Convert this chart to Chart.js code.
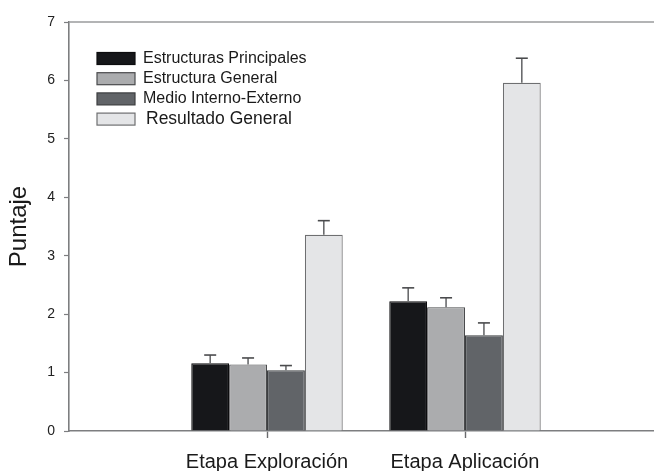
<!DOCTYPE html>
<html><head><meta charset="utf-8">
<style>html,body{margin:0;padding:0;background:#fff;overflow:hidden;width:654px;height:471px}canvas{display:block}</style>
<script src="https://cdn.jsdelivr.net/npm/chart.js@4.4.1/dist/chart.umd.min.js"></script>
</head><body>
<canvas id="c" width="675" height="471"></canvas>
<script>
const categories = ['Etapa Exploración', 'Etapa Aplicación'];
const seriesNames = ['Estructuras Principales', 'Estructura General', 'Medio Interno-Externo', 'Resultado General'];
const estructurasPrincipales = [1.16, 2.22];
const estructuraGeneral = [1.14, 2.12];
const medioInternoExterno = [1.04, 1.64];
const resultadoGeneral = [3.36, 5.96];
const errEstructurasPrincipales = [0.14, 0.23];
const errEstructuraGeneral = [0.11, 0.16];
const errMedioInternoExterno = [0.08, 0.21];
const errResultadoGeneral = [0.24, 0.42];
const yTickValues = [0, 1, 2, 3, 4, 5, 6, 7];

const FONT = "'Liberation Sans', Arial, sans-serif";
const pad = a => [null, ...a, null];
const labels = ['', ...categories, ''];

const fills = ['#16171a', '#abacae', '#616468', '#e4e5e7'];
const borders = ['#0c0c0e', '#4a4b4d', '#3c3e40', '#6e6f71'];
const values = [estructurasPrincipales, estructuraGeneral, medioInternoExterno, resultadoGeneral];
const errs = [errEstructurasPrincipales, errEstructuraGeneral, errMedioInternoExterno, errResultadoGeneral];

const datasets = seriesNames.map((name, i) => ({
  label: name,
  data: pad(values[i]),
  errors: pad(errs[i]),
  backgroundColor: fills[i],
  borderColor: borders[i],
  borderWidth: 1.2,
  borderSkipped: 'bottom',
  categoryPercentage: 0.765,
  barPercentage: 1.0
}));

const errorBars = {
  id: 'errorBars',
  afterDatasetsDraw(chart) {
    const ctx = chart.ctx, ys = chart.scales.y;
    chart.data.datasets.forEach((ds, di) => {
      const meta = chart.getDatasetMeta(di);
      meta.data.forEach((el, i) => {
        const v = ds.data[i], e = ds.errors[i];
        if (v == null || e == null) return;
        const yTop = ys.getPixelForValue(v + e);
        const yBar = ys.getPixelForValue(v);
        ctx.save();
        ctx.strokeStyle = '#6a6b6d';
        ctx.lineWidth = 1.6;
        ctx.beginPath();
        ctx.moveTo(el.x, yBar);
        ctx.lineTo(el.x, yTop);
        ctx.stroke();
        ctx.strokeStyle = '#4a4b4d';
        ctx.beginPath();
        ctx.moveTo(el.x - 6, yTop);
        ctx.lineTo(el.x + 6, yTop);
        ctx.stroke();
        ctx.restore();
      });
    });
  }
};

const frameTop = {
  id: 'frameTop',
  beforeDatasetsDraw(chart) {
    const {ctx, chartArea: a} = chart;
    ctx.save();
    ctx.strokeStyle = '#9a9b9d';
    ctx.lineWidth = 1.6;
    ctx.beginPath();
    ctx.moveTo(a.left, a.top);
    ctx.lineTo(a.right, a.top);
    ctx.stroke();
    ctx.restore();
  }
};

const insideLegend = {
  id: 'insideLegend',
  afterDraw(chart, args, opts) {
    const {ctx, chartArea: a} = chart;
    ctx.save();
    chart.data.datasets.forEach((ds, i) => {
      const cy = a.top + opts.offsetY + i * opts.rowGap;
      const bx = a.left + opts.offsetX;
      ctx.fillStyle = ds.backgroundColor;
      ctx.fillRect(bx, cy - opts.boxH / 2, opts.boxW, opts.boxH);
      ctx.strokeStyle = ds.borderColor;
      ctx.lineWidth = 1.2;
      ctx.strokeRect(bx, cy - opts.boxH / 2, opts.boxW, opts.boxH);
      ctx.fillStyle = '#1a1a1a';
      ctx.font = opts.sizes[i] + 'px ' + FONT;
      ctx.textBaseline = 'middle';
      ctx.textAlign = 'left';
      ctx.fillText(ds.label, bx + opts.boxW + opts.textGap[i], cy);
    });
    ctx.restore();
  }
};

new Chart(document.getElementById('c'), {
  type: 'bar',
  data: { labels, datasets },
  plugins: [errorBars, frameTop, insideLegend],
  options: {
    responsive: false,
    animation: false,
    layout: { padding: { top: 22, right: 0, left: 0, bottom: 0 } },
    plugins: {
      legend: { display: false },
      tooltip: { enabled: false },
      insideLegend: { offsetX: 28, offsetY: 36.5, rowGap: 20.2, boxW: 38, boxH: 12, sizes: [16, 16, 16, 17.5], textGap: [8, 8, 8, 11] }
    },
    scales: {
      x: {
        offset: false,
        afterFit(s) { s.height = 40; },
        grid: {
          offset: false,
          drawOnChartArea: false,
          drawTicks: true,
          tickLength: 7,
          tickWidth: 1.4,
          tickColor: ctx => (ctx.index === 0 || ctx.index === labels.length - 1) ? 'rgba(0,0,0,0)' : '#6a6b6d'
        },
        border: { display: true, color: '#7d7e80', width: 1.6 },
        ticks: { color: '#1a1a1a', font: { family: FONT, size: 20 }, padding: 12, maxRotation: 0, autoSkip: false }
      },
      y: {
        min: 0, max: 7,
        afterFit(s) { s.width = 69; },
        afterBuildTicks(s) { s.ticks = yTickValues.map(v => ({ value: v })); },
        grid: { drawOnChartArea: false, drawTicks: true, tickLength: 5, tickColor: '#7d7e80', tickWidth: 1.2 },
        border: { display: true, color: '#7d7e80', width: 1.6 },
        ticks: { color: '#222', font: { family: FONT, size: 14 }, padding: 9 },
        title: { display: true, text: 'Puntaje', color: '#1a1a1a', font: { family: FONT, size: 24 }, padding: { top: 5, bottom: 0 } }
      }
    }
  }
});
</script>
</body></html>
